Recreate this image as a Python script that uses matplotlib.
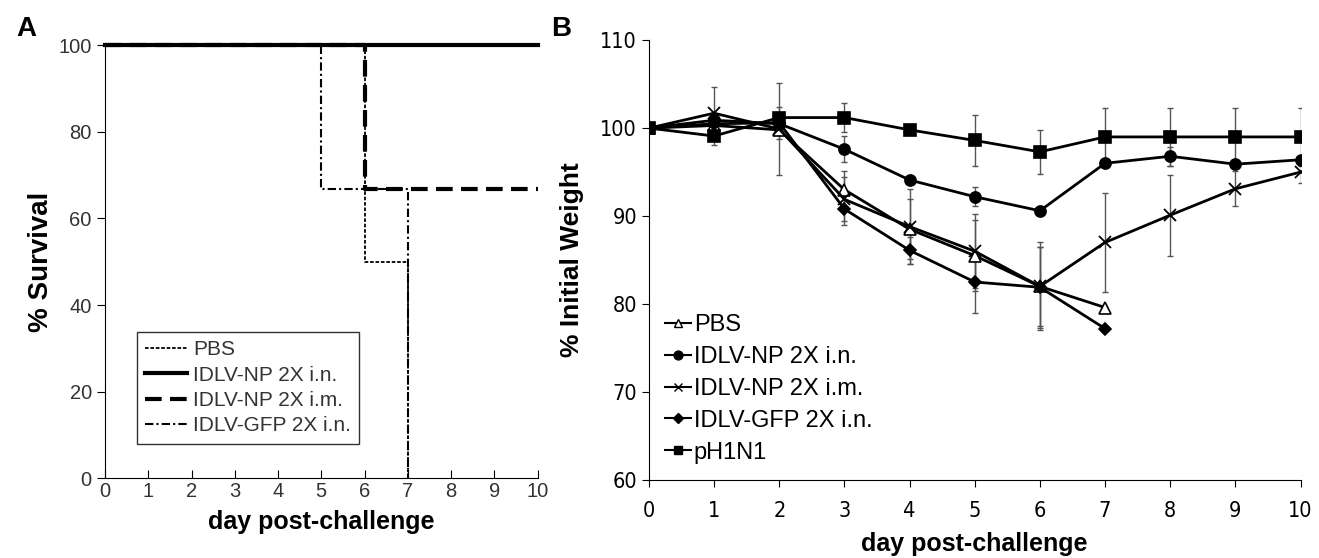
import matplotlib
matplotlib.use('Agg')
import matplotlib.pyplot as plt
from matplotlib import font_manager
from matplotlib.lines import Line2D

# Panel A: survival (step data)
days_a = [0, 1, 2, 3, 4, 5, 6, 7, 8, 9, 10]
surv_pbs = [100, 100, 100, 100, 100, 100, 50, 0, None, None, None]
surv_np_in = [100, 100, 100, 100, 100, 100, 100, 100, 100, 100, 100]
surv_np_im = [100, 100, 100, 100, 100, 100, 66.7, 66.7, 66.7, 66.7, 66.7]
surv_gfp = [100, 100, 100, 100, 100, 66.7, 66.7, 0, None, None, None]

# Panel B: weight
days_b = [0, 1, 2, 3, 4, 5, 6, 7, 8, 9, 10]
w_pbs = [100, 100.3, 99.8, 93.0, 88.5, 85.5, 82.0, 79.6]
e_pbs = [0, 0.8, 1.0, 2.1, 3.4, 4.0, 4.5, 0]
w_np_in = [100, 100.9, 100.5, 97.6, 94.1, 92.2, 90.6, 96.0, 96.8, 95.9, 96.4]
e_np_in = [0, 0.6, 0.8, 1.5, 0.4, 1.1, 0.3, 0.3, 1.1, 0.3, 0.3]
w_np_im = [100, 101.7, 99.9, 91.9, 88.8, 86.0, 82.0, 87.0, 90.1, 93.1, 95.0]
e_np_im = [0, 3.0, 5.2, 2.5, 4.3, 4.2, 5.0, 5.6, 4.6, 2.0, 1.2]
w_gfp = [100, 100.5, 100.6, 90.8, 86.1, 82.5, 81.9, 77.2]
e_gfp = [0, 0.5, 0.6, 1.8, 1.5, 3.5, 4.6, 0]
w_h1n1 = [100, 99.1, 101.2, 101.2, 99.8, 98.6, 97.3, 99.0, 99.0, 99.0, 99.0]
e_h1n1 = [0, 1.0, 1.2, 1.6, 0.6, 2.9, 2.5, 3.3, 3.3, 3.3, 3.3]


def find_narrow():
    """Look for an installed condensed / narrow regular font file."""
    best = None
    for f in font_manager.fontManager.ttflist:
        st = str(f.stretch).lower()
        nm = f.name.lower()
        if ('condensed' in st or 'narrow' in nm or 'condensed' in nm
                or st in ('75', '87', '62', '50')):
            if f.style == 'normal' and f.weight in (400, 'normal', 'regular'):
                if best is None or 'liberation' in nm:
                    best = f.fname
    return best


nfile = find_narrow()


def nprop(size):
    if nfile:
        return font_manager.FontProperties(fname=nfile, size=size)
    return font_manager.FontProperties(family='Liberation Sans', size=size)


plt.rcParams['font.family'] = ['Liberation Sans', 'DejaVu Sans']

fig = plt.figure(figsize=(13.19, 5.58), dpi=100)
ax1 = fig.add_axes([0.0796, 0.143, 0.328, 0.776])
ax2 = fig.add_axes([0.492, 0.140, 0.494, 0.788])


def clean(x, y):
    pts = [(a, b) for a, b in zip(x, y) if b is not None]
    return [p[0] for p in pts], [p[1] for p in pts]


# Survival curves
x, y = clean(days_a, surv_pbs)
ax1.step(x, y, where='post', color='black', lw=1.3, linestyle=(0, (2, 1)),
         label='PBS', clip_on=False)
x, y = clean(days_a, surv_np_in)
ax1.step(x, y, where='post', color='black', lw=3, label='IDLV-NP 2X i.n.',
         clip_on=False, zorder=4)
x, y = clean(days_a, surv_np_im)
ax1.step(x, y, where='post', color='black', lw=3, linestyle=(0, (4, 2)),
         label='IDLV-NP 2X i.m.', clip_on=False)
x, y = clean(days_a, surv_gfp)
ax1.step(x, y, where='post', color='black', lw=1.5,
         linestyle=(0, (4, 1.5, 1, 1.5)), label='IDLV-GFP 2X i.n.',
         clip_on=False)

ax1.set_xlim(0, 10)
ax1.set_ylim(0, 100)
ax1.set_xticks(range(0, 11))
ax1.set_yticks(range(0, 101, 20))
ax1.spines['top'].set_visible(False)
ax1.spines['right'].set_visible(False)
ax1.tick_params(axis='x', direction='in', length=6, labelsize=14.5,
                labelcolor='#333333', pad=3)
ax1.tick_params(axis='y', direction='out', length=6, labelsize=14.5,
                labelcolor='#333333')
ax1.set_xlabel('day post-challenge', fontsize=18, fontweight='bold',
               labelpad=6)
ax1.set_ylabel('% Survival', fontsize=20, fontweight='bold', labelpad=3)
leg = ax1.legend(loc='lower left', bbox_to_anchor=(0.05, 0.056), fontsize=15,
                 frameon=True, fancybox=False, edgecolor='black',
                 handlelength=2.0, handletextpad=0.3, borderpad=0.4,
                 labelspacing=0.3, labelcolor='#333333')
leg.get_frame().set_linewidth(1.0)

# Weight curves
ekw = dict(fmt='none', ecolor='#555555', elinewidth=1, capsize=2.5,
           capthick=1)
series = [
    (w_pbs, e_pbs, '^', 'white', 'PBS'),
    (w_np_in, e_np_in, 'o', 'black', 'IDLV-NP 2X i.n.'),
    (w_np_im, e_np_im, 'x', 'black', 'IDLV-NP 2X i.m.'),
    (w_gfp, e_gfp, 'D', 'black', 'IDLV-GFP 2X i.n.'),
    (w_h1n1, e_h1n1, 's', 'black', 'pH1N1'),
]
handles = []
for w, e, m, fc, lab in series:
    d = days_b[:len(w)]
    ms = 6 if m == 'D' else 8
    ax2.errorbar(d, w, yerr=e, **ekw)
    ax2.plot(d, w, color='black', lw=2, marker=m, ms=ms, mfc=fc,
             mec='black', mew=1.2 if m != 'x' else 1.3, zorder=3)
    handles.append(Line2D([], [], color='black', lw=1.5, marker=m,
                          ms=ms * 0.8, mfc=fc, mec='black', mew=1,
                          label=lab))

ax2.set_xlim(0, 10)
ax2.set_ylim(60, 110)
ax2.set_xticks(range(0, 11))
ax2.set_yticks(range(60, 111, 10))
ax2.spines['top'].set_visible(False)
ax2.spines['right'].set_visible(False)
ax2.tick_params(axis='both', direction='out', length=5)
for lab in ax2.get_xticklabels() + ax2.get_yticklabels():
    lab.set_fontproperties(nprop(15.5))
ax2.tick_params(axis='x', pad=10)
ax2.set_xlabel('day post-challenge', fontsize=18, fontweight='bold',
               labelpad=8)
ax2.set_ylabel('% Initial Weight', fontsize=19, fontweight='bold', labelpad=12)
leg2 = ax2.legend(handles=handles, loc='upper left',
                  bbox_to_anchor=(0.0, 0.415), frameon=False,
                  handlelength=1.1, handletextpad=0.1, labelspacing=0.42,
                  borderpad=0.2, fontsize=17)

fig.text(0.012, 0.935, 'A', fontsize=20, fontweight='bold')
fig.text(0.418, 0.935, 'B', fontsize=20, fontweight='bold')

fig.savefig('out.png', dpi=100)
